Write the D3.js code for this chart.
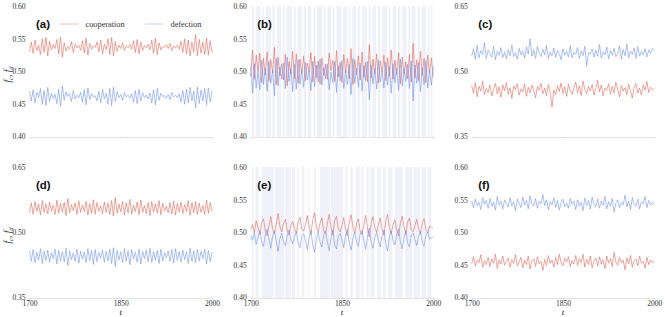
<!DOCTYPE html>
<html>
<head>
<meta charset="utf-8">
<script src="https://cdn.jsdelivr.net/npm/d3@7"></script>
<style>
body { margin: 0; background: #fff; }
svg { display: block; }
</style>
</head>
<body>
<svg class="fig" width="665" height="317"></svg>
<script>
// time axis, one sample every 3 years
let years = d3.range(1700, 2001, 3);
let xTicks = [1700, 1850, 2000];
let yTicksFine = [0.40, 0.45, 0.50, 0.55, 0.60];
let yTicksWide = [0.35, 0.50, 0.65];
let panelLabels = ['(a)', '(b)', '(c)', '(d)', '(e)', '(f)'];
let seriesNames = ['cooperation', 'defection'];

/* SERIES */
let coopA = [
	.530,.545,.528,.548,.532,.540,.526,.550,.529,.552,
	.524,.546,.533,.541,.535,.549,.527,.553,.522,.544,
	.531,.538,.534,.546,.529,.542,.536,.540,.532,.547,
	.528,.551,.525,.543,.534,.539,.537,.545,.530,.548,
	.527,.542,.533,.550,.526,.552,.524,.546,.531,.540,
	.535,.544,.532,.539,.536,.541,.534,.547,.529,.549,
	.527,.545,.532,.540,.536,.542,.533,.548,.528,.551,
	.526,.544,.533,.538,.537,.541,.535,.543,.532,.539,
	.536,.540,.534,.546,.529,.550,.527,.548,.524,.545,
	.530,.556,.524,.549,.528,.545,.526,.551,.525,.547,
	.529];
let defA = [
	.470,.455,.472,.452,.468,.460,.474,.450,.471,.448,
	.476,.454,.467,.459,.465,.451,.473,.447,.478,.456,
	.469,.462,.466,.454,.471,.458,.464,.460,.468,.453,
	.472,.449,.475,.457,.466,.461,.463,.455,.470,.452,
	.473,.458,.467,.450,.474,.448,.476,.454,.469,.460,
	.465,.456,.468,.461,.464,.459,.466,.453,.471,.451,
	.473,.455,.468,.460,.464,.458,.467,.452,.472,.449,
	.474,.456,.467,.462,.463,.459,.465,.457,.468,.461,
	.464,.460,.466,.454,.471,.450,.473,.452,.476,.455,
	.470,.444,.476,.451,.472,.455,.474,.449,.475,.453,
	.471];
let coopB = [
	.492,.533,.488,.525,.500,.528,.483,.520,.495,.530,
	.485,.518,.498,.537,.480,.522,.493,.512,.487,.526,
	.478,.515,.496,.531,.489,.527,.482,.519,.497,.524,
	.486,.513,.499,.529,.484,.523,.490,.516,.481,.521,
	.494,.511,.488,.528,.501,.517,.485,.532,.492,.514,
	.483,.526,.498,.520,.489,.535,.480,.518,.495,.524,
	.487,.530,.491,.514,.484,.541,.490,.519,.496,.527,
	.482,.516,.499,.525,.486,.521,.493,.533,.488,.517,
	.495,.529,.481,.522,.497,.515,.489,.526,.484,.543,
	.490,.518,.486,.531,.494,.520,.483,.525,.498,.521,
	.492];
let defB = [
	.508,.467,.512,.475,.500,.472,.517,.480,.505,.470,
	.515,.482,.502,.463,.520,.478,.507,.488,.513,.474,
	.522,.485,.504,.469,.511,.473,.518,.481,.503,.476,
	.514,.487,.501,.471,.516,.477,.510,.484,.519,.479,
	.506,.489,.512,.472,.499,.483,.515,.468,.508,.486,
	.517,.474,.502,.480,.511,.465,.520,.482,.505,.476,
	.513,.470,.509,.486,.516,.457,.510,.481,.504,.473,
	.518,.484,.501,.475,.514,.479,.507,.467,.512,.483,
	.505,.471,.519,.478,.503,.485,.511,.474,.516,.455,
	.510,.482,.514,.469,.506,.480,.517,.475,.502,.479,
	.508];
let coopC = [
	.468,.450,.474,.442,.466,.455,.478,.447,.461,.452,
	.470,.444,.459,.473,.449,.465,.441,.469,.456,.475,
	.448,.463,.438,.467,.458,.472,.446,.460,.453,.471,
	.443,.464,.451,.469,.455,.440,.466,.457,.473,.449,
	.462,.445,.470,.452,.418,.458,.447,.468,.454,.474,
	.450,.465,.443,.471,.456,.448,.463,.476,.452,.467,
	.445,.478,.459,.449,.466,.455,.470,.446,.461,.480,
	.453,.469,.444,.462,.457,.472,.448,.466,.451,.475,
	.459,.442,.468,.455,.463,.447,.471,.454,.439,.465,
	.473,.450,.462,.446,.469,.457,.477,.452,.464,.458,
	.461];
let defC = [
	.535,.552,.528,.560,.531,.548,.539,.566,.530,.549,
	.541,.533,.558,.527,.546,.537,.555,.532,.544,.529,
	.550,.536,.561,.534,.543,.528,.553,.538,.547,.531,
	.556,.540,.575,.535,.549,.530,.557,.542,.534,.551,
	.538,.560,.529,.545,.536,.554,.532,.548,.541,.527,
	.552,.537,.546,.533,.559,.531,.544,.539,.555,.530,
	.547,.536,.558,.512,.543,.540,.552,.533,.549,.535,
	.562,.531,.545,.538,.556,.529,.548,.537,.553,.534,
	.541,.559,.528,.550,.536,.563,.532,.547,.539,.554,
	.530,.557,.535,.546,.538,.552,.533,.549,.541,.553,
	.548];
let coopD = [
	.545,.568,.542,.571,.548,.565,.540,.573,.546,.566,
	.543,.570,.549,.562,.541,.574,.544,.567,.547,.569,
	.539,.578,.545,.564,.550,.568,.541,.572,.546,.563,
	.548,.571,.540,.566,.544,.575,.542,.569,.549,.561,
	.543,.570,.546,.567,.541,.573,.538,.580,.544,.565,
	.547,.571,.540,.568,.545,.576,.542,.563,.548,.570,
	.541,.574,.546,.562,.543,.569,.539,.571,.547,.566,
	.544,.573,.541,.567,.549,.560,.545,.568,.542,.572,
	.540,.566,.547,.570,.543,.564,.548,.573,.539,.568,
	.545,.571,.542,.567,.546,.562,.541,.574,.544,.569,
	.548];
let defD = [
	.458,.434,.461,.431,.455,.437,.463,.429,.457,.436,
	.460,.432,.454,.440,.462,.428,.459,.435,.456,.433,
	.464,.424,.458,.438,.453,.434,.462,.430,.457,.439,
	.455,.431,.463,.436,.459,.427,.461,.433,.454,.441,
	.460,.432,.457,.435,.462,.429,.465,.422,.459,.437,
	.456,.431,.463,.434,.458,.426,.461,.439,.455,.432,
	.462,.428,.457,.440,.460,.433,.464,.431,.456,.436,
	.459,.429,.462,.435,.454,.442,.458,.434,.461,.430,
	.463,.436,.456,.432,.460,.438,.455,.429,.464,.434,
	.458,.431,.461,.435,.457,.440,.462,.428,.459,.433,
	.455];
let coopE = [
	.505,.512,.500,.518,.508,.497,.515,.521,.503,.495,
	.510,.524,.506,.498,.513,.529,.509,.501,.514,.520,
	.504,.496,.511,.517,.507,.499,.516,.523,.505,.502,
	.512,.526,.508,.497,.519,.530,.510,.500,.515,.522,
	.503,.498,.513,.528,.507,.496,.518,.525,.506,.501,
	.511,.523,.504,.495,.516,.527,.509,.499,.514,.521,
	.502,.497,.512,.526,.506,.493,.515,.524,.508,.500,
	.513,.522,.505,.496,.517,.528,.507,.498,.512,.519,
	.503,.495,.514,.525,.509,.497,.516,.522,.504,.501,
	.511,.520,.506,.498,.515,.521,.505,.499,.510,.508,
	.506];
let defE = [
	.495,.488,.500,.482,.492,.503,.485,.479,.497,.505,
	.490,.476,.494,.502,.487,.471,.491,.499,.486,.480,
	.496,.504,.489,.483,.493,.501,.484,.477,.495,.498,
	.488,.474,.492,.503,.481,.470,.490,.500,.485,.478,
	.497,.502,.487,.472,.493,.504,.482,.475,.494,.499,
	.489,.477,.496,.505,.484,.473,.491,.501,.486,.479,
	.498,.503,.488,.474,.494,.507,.485,.476,.492,.500,
	.487,.478,.495,.504,.483,.472,.493,.502,.488,.481,
	.497,.505,.486,.475,.491,.503,.484,.478,.496,.499,
	.489,.480,.494,.502,.485,.479,.495,.501,.490,.492,
	.494];
let coopF = [
	.452,.463,.449,.458,.454,.466,.447,.457,.451,.462,
	.448,.460,.453,.467,.445,.458,.452,.464,.450,.456,
	.461,.447,.459,.453,.466,.449,.455,.462,.446,.458,
	.451,.464,.444,.457,.460,.448,.463,.452,.456,.442,
	.459,.450,.465,.453,.458,.447,.462,.451,.467,.454,
	.449,.461,.455,.463,.448,.457,.452,.465,.450,.460,
	.454,.467,.447,.459,.451,.464,.446,.456,.461,.449,
	.463,.452,.458,.445,.464,.453,.460,.448,.470,.455,
	.450,.462,.454,.458,.443,.461,.452,.465,.447,.457,
	.460,.449,.464,.453,.456,.445,.462,.451,.458,.454,
	.456];
let defF = [
	.548,.538,.551,.541,.546,.535,.553,.543,.549,.537,
	.552,.540,.547,.534,.555,.542,.548,.536,.550,.544,
	.539,.553,.541,.547,.533,.551,.545,.538,.554,.542,
	.549,.536,.556,.543,.540,.552,.537,.548,.544,.558,
	.541,.550,.535,.547,.542,.553,.538,.549,.534,.546,
	.551,.539,.545,.537,.552,.543,.548,.535,.550,.540,
	.546,.533,.553,.541,.549,.536,.554,.544,.539,.551,
	.537,.548,.542,.555,.536,.547,.540,.552,.531,.545,
	.550,.538,.546,.542,.557,.539,.548,.535,.553,.543,
	.540,.551,.536,.547,.544,.555,.538,.549,.542,.546,
	.544];

// shaded year spans in panels (b) and (e)
let bandsB = [[1702,1706],[1709,1716],[1719,1722],[1725,1733],[1736,1740],[1743,1750],[1753,1756],[1759,1768],
	[1771,1774],[1777,1784],[1787,1791],[1794,1800],[1803,1806],[1809,1817],[1820,1823],[1826,1832],[1835,1838],
	[1841,1849],[1852,1858],[1861,1864],[1867,1873],[1876,1880],[1883,1891],[1894,1897],[1900,1906],[1909,1913],
	[1916,1924],[1927,1930],[1933,1939],[1942,1946],[1949,1956],[1959,1962],[1965,1971],[1974,1978],[1981,1988],
	[1991,1994],[1996,1999]];
let bandsE = [[1702,1705],[1708,1713],[1718,1738],[1740,1755],[1757,1766],[1768,1773],[1777,1779],[1784,1788],
	[1795,1797],[1804,1807],[1814,1830],[1832,1852],[1856,1859],[1864,1868],[1873,1879],[1882,1885],[1891,1894],
	[1897,1903],[1908,1914],[1917,1922],[1926,1933],[1937,1950],[1954,1966],[1968,1978],[1981,1988],[1991,1997]];

/* LAYOUT */
let colX = [29.5, 250.7, 471.7];
let rowY = [6, 167];
let plotW = 182.5;
let plotH = 131;
let colors = { coop: '#e2604f', def: '#6a8ef0' };
let serif = "'Liberation Serif', 'Times New Roman', serif";

let panels = [
	{ coop: coopA, def: defA, domain: [0.40, 0.60], ticks: yTicksFine, bands: [] },
	{ coop: coopB, def: defB, domain: [0.40, 0.60], ticks: yTicksFine, bands: bandsB },
	{ coop: coopC, def: defC, domain: [0.35, 0.65], ticks: yTicksWide, bands: [] },
	{ coop: coopD, def: defD, domain: [0.35, 0.65], ticks: yTicksWide, bands: [] },
	{ coop: coopE, def: defE, domain: [0.40, 0.60], ticks: yTicksFine, bands: bandsE },
	{ coop: coopF, def: defF, domain: [0.40, 0.60], ticks: yTicksFine, bands: [] }
];

let svg = d3.select('.fig');

function styleTicks(axisG) {
	axisG.attr('font-family', null).attr('font-size', null);
	axisG.selectAll('text')
		.style('font-family', serif)
		.style('font-size', '7.5px')
		.style('fill', '#333');
}

panels.forEach(function(p, k) {
	let col = k % 3, row = Math.floor(k / 3);
	let x = d3.scaleLinear().domain([1700, 2000]).range([colX[col], colX[col] + plotW]);
	let y = d3.scaleLinear().domain(p.domain).range([rowY[row] + plotH, rowY[row]]);
	let g = svg.append('g');

	// background regime bands
	g.selectAll('.band')
		.data(p.bands)
		.enter()
		.append('rect')
		.attr('x', function(d) { return x(d[0]); })
		.attr('width', function(d) { return x(d[1]) - x(d[0]); })
		.attr('y', y.range()[1])
		.attr('height', plotH)
		.style('fill', '#ececf7')
		.style('opacity', 0.8);

	// y axis: labels only
	let yAxis = g.append('g')
		.attr('transform', 'translate(' + colX[col] + ',0)')
		.call(d3.axisLeft(y).tickValues(p.ticks).tickFormat(d3.format('.2f')).tickSize(0).tickPadding(4));
	yAxis.select('.domain').remove();
	styleTicks(yAxis);
	// lowest label sits a touch higher so it clears the year labels
	yAxis.selectAll('.tick text').filter(function(d) { return d === p.domain[0]; }).attr('dy', '0.2em');

	// x axis
	let xAxis = g.append('g')
		.attr('transform', 'translate(0,' + (rowY[row] + plotH) + ')')
		.call(d3.axisBottom(x).tickValues(xTicks).tickSizeOuter(0).tickSizeInner(1.5).tickPadding(1.2)
			.tickFormat(row === 1 ? d3.format('d') : ''));
	xAxis.select('.domain').style('stroke', '#dcdcdc').style('stroke-width', 0.8);
	xAxis.selectAll('.tick line').style('stroke', '#bbb').style('stroke-width', 0.6);
	styleTicks(xAxis);

	let line = d3.line()
		.x(function(d, i) { return x(years[i]); })
		.y(function(d) { return y(d); });

	g.append('path').datum(p.coop)
		.attr('d', line)
		.style('fill', 'none')
		.style('stroke', colors.coop)
		.style('stroke-width', 0.8)
		.style('opacity', 0.7);
	g.append('path').datum(p.def)
		.attr('d', line)
		.style('fill', 'none')
		.style('stroke', colors.def)
		.style('stroke-width', 0.8)
		.style('opacity', 0.7);

	// panel label
	g.append('text')
		.attr('x', colX[col] + 6.5)
		.attr('y', rowY[row] + 22)
		.style('font-family', 'Liberation Sans, Arial, sans-serif')
		.style('font-weight', 'bold')
		.style('font-size', '11.5px')
		.style('fill', '#111')
		.text(panelLabels[k]);

	if(row === 1) {
		g.append('text')
			.attr('x', colX[col] + plotW / 2)
			.attr('y', 314.5)
			.attr('text-anchor', 'middle')
			.style('font-family', serif)
			.style('font-style', 'italic')
			.style('font-size', '9px')
			.style('fill', '#222')
			.text('t');
	}

	if(col === 0) {
		let cy = rowY[row] + plotH / 2 + 3;
		let lab = g.append('text')
			.attr('transform', 'translate(10.5,' + cy + ') rotate(-90)')
			.attr('text-anchor', 'middle')
			.style('font-family', serif)
			.style('font-size', '9.5px')
			.style('fill', '#333');
		lab.append('tspan').style('font-style', 'italic').text('f');
		lab.append('tspan').attr('dy', 2).style('font-size', '6.5px').style('font-style', 'italic').text('c');
		lab.append('tspan').attr('dy', -2).text(', ');
		lab.append('tspan').style('font-style', 'italic').text('f');
		lab.append('tspan').attr('dy', 2).style('font-size', '6.5px').style('font-style', 'italic').text('d');
	}
});

// legend in panel (a)
let legend = svg.append('g');
let legendX = [60, 145];
seriesNames.forEach(function(name, i) {
	legend.append('line')
		.attr('x1', legendX[i]).attr('x2', legendX[i] + 18)
		.attr('y1', 24).attr('y2', 24)
		.style('stroke', i === 0 ? colors.coop : colors.def)
		.style('stroke-width', 0.8)
		.style('opacity', 0.5);
	legend.append('text')
		.attr('x', legendX[i] + 25.5)
		.attr('y', 26.8)
		.style('font-family', serif)
		.style('font-size', '8.3px')
		.style('fill', '#333')
		.text(name);
});
</script>
</body>
</html>
